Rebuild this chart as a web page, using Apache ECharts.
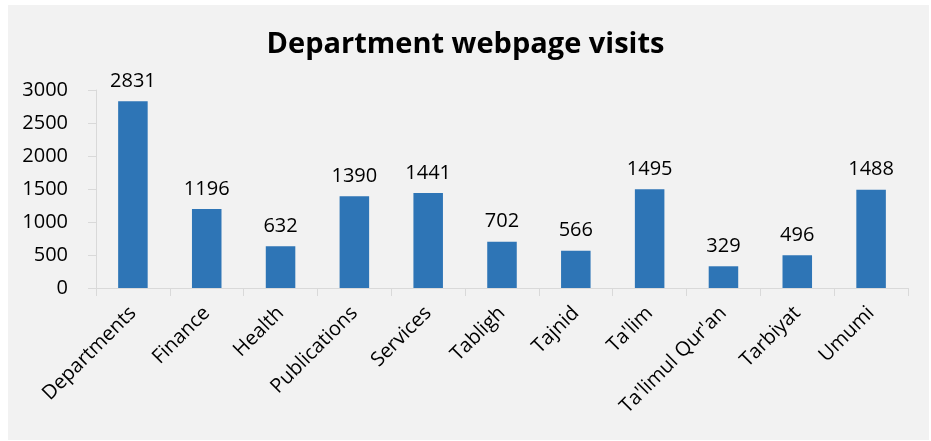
<!DOCTYPE html>
<html>
<head>
<meta charset="utf-8">
<script src="https://cdn.jsdelivr.net/npm/echarts@6/dist/echarts.min.js"></script>
<style>
  html, body { margin: 0; padding: 0; background: #ffffff; }
  #chart { width: 931px; height: 441px; }
</style>
</head>
<body>
<div id="chart"></div>
<script>
// Page visits per department
const categories = ['Departments', 'Finance', 'Health', 'Publications', 'Services', 'Tabligh',
  'Tajnid', "Ta'lim", "Ta'limul Qur'an", 'Tarbiyat', 'Umumi'];
const visits = [2831, 1196, 632, 1390, 1441, 702, 566, 1495, 329, 496, 1488];
const yTicks = { min: 0, max: 3000, interval: 500 };

const font = 'Open Sans';
const chart = echarts.init(document.getElementById('chart'), null, { renderer: 'canvas' });

chart.setOption({
  animation: false,
  backgroundColor: '#ffffff',
  graphic: [{
    type: 'rect',
    left: 8, top: 5,
    shape: { width: 921, height: 435 },
    style: { fill: '#f2f2f2' },
    z: -10
  }],
  title: {
    text: 'Department webpage visits',
    left: 'center',
    top: 25,
    textStyle: { fontFamily: font, fontWeight: 'bold', fontSize: 29, color: '#000000' }
  },
  grid: { left: 96, right: 23, top: 90, bottom: 153, containLabel: false },
  xAxis: {
    type: 'category',
    data: categories,
    axisLine: { lineStyle: { color: '#d9d9d9', width: 1 } },
    axisTick: { show: true, length: 8, lineStyle: { color: '#d9d9d9' } },
    axisLabel: {
      rotate: 45, interval: 0, margin: 22,
      fontFamily: font, fontSize: 20, color: '#000000'
    }
  },
  yAxis: {
    type: 'value',
    min: yTicks.min, max: yTicks.max, interval: yTicks.interval,
    splitLine: { show: false },
    axisLine: { show: true, lineStyle: { color: '#d9d9d9', width: 1 } },
    axisTick: { show: true, length: 8, lineStyle: { color: '#d9d9d9' } },
    axisLabel: {
      margin: 28, fontFamily: font, fontSize: 20, color: '#000000',
      formatter: (v) => String(v)
    }
  },
  series: [{
    type: 'bar',
    data: visits,
    barWidth: '40%',
    itemStyle: { color: '#2e75b6' },
    label: {
      show: true, position: 'top', distance: 10,
      fontFamily: font, fontSize: 20, color: '#000000'
    }
  }]
});
</script>
</body>
</html>
